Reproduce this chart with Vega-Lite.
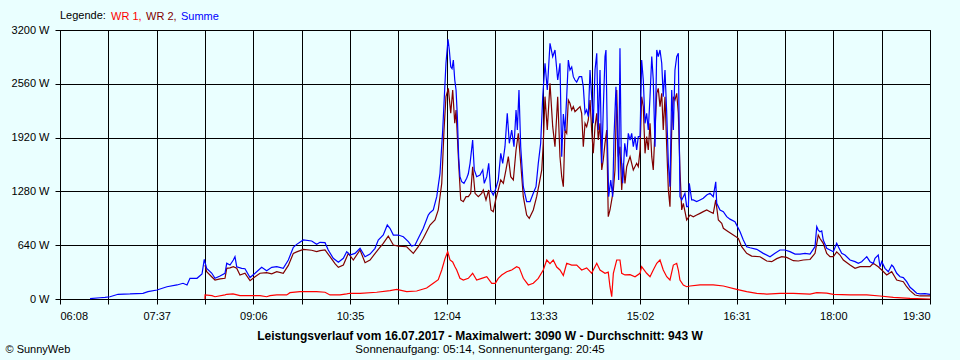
{
  "$schema": "https://vega.github.io/schema/vega-lite/v6.json",
  "width": 870,
  "height": 269,
  "autosize": "none",
  "padding": {"left": 60, "top": 30, "right": 30, "bottom": 61},
  "background": "#EAFFFF",
  "config": {
    "font": "Liberation Sans",
    "view": {"stroke": "black", "strokeWidth": 1},
    "axis": {
      "labelFont": "Liberation Sans",
      "labelFontSize": 11,
      "labelColor": "black",
      "tickColor": "black",
      "tickSize": 5,
      "domainColor": "black",
      "gridColor": "black",
      "gridOpacity": 1,
      "gridWidth": 1,
      "labelOverlap": false
    }
  },
  "title": {
    "text": "Leistungsverlauf vom 16.07.2017 - Maximalwert: 3090 W - Durchschnitt: 943 W",
    "subtitle": "Sonnenaufgang: 05:14, Sonnenuntergang: 20:45",
    "orient": "bottom",
    "anchor": "middle",
    "frame": "group",
    "offset": -23,
    "dx": -15,
    "font": "Liberation Sans",
    "fontSize": 12,
    "fontWeight": "bold",
    "color": "black",
    "subtitleFont": "Liberation Sans",
    "subtitleFontSize": 11.5,
    "subtitleColor": "black",
    "subtitlePadding": 1
  },
  "layer": [
    {
      "mark": {"type": "rule", "color": "#808080", "strokeWidth": 1},
      "encoding": {"y": {"datum": 943, "type": "quantitative", "scale": {"domain": [0, 3200], "nice": false}}}
    },
    {
      "data": {"values": [
        {"t":501.6,"s":"WR 1","w":0},{"t":501.7,"s":"WR 1","w":48},{"t":508.1,"s":"WR 1","w":40},{"t":510.9,"s":"WR 1","w":27},{"t":520.1,"s":"WR 1","w":50},{"t":521.7,"s":"WR 1","w":56},{"t":527.5,"s":"WR 1","w":60},{"t":533.9,"s":"WR 1","w":40},{"t":543.2,"s":"WR 1","w":39},{"t":552.4,"s":"WR 1","w":39},{"t":558.5,"s":"WR 1","w":27},{"t":561.6,"s":"WR 1","w":40},{"t":567.8,"s":"WR 1","w":48},{"t":577.0,"s":"WR 1","w":48},{"t":580.0,"s":"WR 1","w":75},{"t":589.2,"s":"WR 1","w":87},{"t":604.6,"s":"WR 1","w":87},{"t":612.3,"s":"WR 1","w":80},{"t":616.9,"s":"WR 1","w":48},{"t":626.1,"s":"WR 1","w":48},{"t":632.3,"s":"WR 1","w":60},{"t":635.3,"s":"WR 1","w":68},{"t":644.6,"s":"WR 1","w":68},{"t":659.9,"s":"WR 1","w":80},{"t":672.2,"s":"WR 1","w":100},{"t":678.4,"s":"WR 1","w":115},{"t":687.6,"s":"WR 1","w":87},{"t":696.8,"s":"WR 1","w":95},{"t":706.0,"s":"WR 1","w":130},{"t":712.1,"s":"WR 1","w":187},{"t":716.7,"s":"WR 1","w":230},{"t":719.9,"s":"WR 1","w":345},{"t":722.9,"s":"WR 1","w":480},{"t":725.4,"s":"WR 1","w":563},{"t":727.5,"s":"WR 1","w":464},{"t":730.0,"s":"WR 1","w":440},{"t":732.1,"s":"WR 1","w":384},{"t":733.7,"s":"WR 1","w":345},{"t":736.7,"s":"WR 1","w":246},{"t":739.8,"s":"WR 1","w":226},{"t":744.4,"s":"WR 1","w":246},{"t":748.4,"s":"WR 1","w":306},{"t":752.1,"s":"WR 1","w":226},{"t":756.7,"s":"WR 1","w":246},{"t":761.4,"s":"WR 1","w":265},{"t":766.0,"s":"WR 1","w":187},{"t":769.3,"s":"WR 1","w":187},{"t":772.0,"s":"WR 1","w":246},{"t":775.2,"s":"WR 1","w":286},{"t":779.8,"s":"WR 1","w":325},{"t":784.4,"s":"WR 1","w":345},{"t":789.0,"s":"WR 1","w":384},{"t":791.4,"s":"WR 1","w":370},{"t":795.1,"s":"WR 1","w":246},{"t":799.7,"s":"WR 1","w":167},{"t":804.3,"s":"WR 1","w":187},{"t":808.9,"s":"WR 1","w":246},{"t":813.5,"s":"WR 1","w":345},{"t":816.7,"s":"WR 1","w":464},{"t":819.7,"s":"WR 1","w":420},{"t":822.7,"s":"WR 1","w":464},{"t":825.9,"s":"WR 1","w":380},{"t":828.9,"s":"WR 1","w":345},{"t":832.0,"s":"WR 1","w":280},{"t":835.1,"s":"WR 1","w":425},{"t":839.7,"s":"WR 1","w":404},{"t":844.3,"s":"WR 1","w":404},{"t":848.9,"s":"WR 1","w":345},{"t":853.5,"s":"WR 1","w":370},{"t":858.1,"s":"WR 1","w":306},{"t":859.6,"s":"WR 1","w":345},{"t":862.8,"s":"WR 1","w":425},{"t":865.8,"s":"WR 1","w":345},{"t":870.4,"s":"WR 1","w":306},{"t":873.4,"s":"WR 1","w":320},{"t":875.0,"s":"WR 1","w":146},{"t":876.6,"s":"WR 1","w":27},{"t":878.1,"s":"WR 1","w":306},{"t":881.2,"s":"WR 1","w":464},{"t":884.2,"s":"WR 1","w":464},{"t":885.8,"s":"WR 1","w":306},{"t":888.8,"s":"WR 1","w":286},{"t":893.5,"s":"WR 1","w":290},{"t":898.1,"s":"WR 1","w":265},{"t":902.7,"s":"WR 1","w":306},{"t":904.2,"s":"WR 1","w":384},{"t":908.8,"s":"WR 1","w":306},{"t":911.9,"s":"WR 1","w":265},{"t":914.9,"s":"WR 1","w":345},{"t":918.1,"s":"WR 1","w":425},{"t":921.1,"s":"WR 1","w":464},{"t":924.1,"s":"WR 1","w":345},{"t":927.3,"s":"WR 1","w":265},{"t":930.3,"s":"WR 1","w":226},{"t":933.4,"s":"WR 1","w":404},{"t":936.5,"s":"WR 1","w":425},{"t":938.0,"s":"WR 1","w":345},{"t":939.5,"s":"WR 1","w":226},{"t":942.6,"s":"WR 1","w":167},{"t":945.7,"s":"WR 1","w":146},{"t":948.8,"s":"WR 1","w":155},{"t":958.0,"s":"WR 1","w":167},{"t":970.2,"s":"WR 1","w":167},{"t":979.5,"s":"WR 1","w":155},{"t":991.8,"s":"WR 1","w":115},{"t":1001.0,"s":"WR 1","w":87},{"t":1010.3,"s":"WR 1","w":68},{"t":1019.5,"s":"WR 1","w":59},{"t":1031.7,"s":"WR 1","w":68},{"t":1044.0,"s":"WR 1","w":68},{"t":1059.4,"s":"WR 1","w":59},{"t":1065.6,"s":"WR 1","w":75},{"t":1074.8,"s":"WR 1","w":70},{"t":1080.9,"s":"WR 1","w":56},{"t":1096.3,"s":"WR 1","w":48},{"t":1111.7,"s":"WR 1","w":48},{"t":1123.9,"s":"WR 1","w":36},{"t":1136.2,"s":"WR 1","w":20},{"t":1151.6,"s":"WR 1","w":8},{"t":1170.0,"s":"WR 1","w":0},

        {"t":501.7,"s":"WR 2","w":404},{"t":503.2,"s":"WR 2","w":325},{"t":507.8,"s":"WR 2","w":265},{"t":510.9,"s":"WR 2","w":226},{"t":515.5,"s":"WR 2","w":240},{"t":520.1,"s":"WR 2","w":246},{"t":521.7,"s":"WR 2","w":365},{"t":524.7,"s":"WR 2","w":370},{"t":527.8,"s":"WR 2","w":384},{"t":530.9,"s":"WR 2","w":365},{"t":533.9,"s":"WR 2","w":286},{"t":538.5,"s":"WR 2","w":306},{"t":543.2,"s":"WR 2","w":218},{"t":547.8,"s":"WR 2","w":265},{"t":552.4,"s":"WR 2","w":306},{"t":558.5,"s":"WR 2","w":313},{"t":563.2,"s":"WR 2","w":300},{"t":567.8,"s":"WR 2","w":325},{"t":573.8,"s":"WR 2","w":306},{"t":578.5,"s":"WR 2","w":400},{"t":583.1,"s":"WR 2","w":543},{"t":586.2,"s":"WR 2","w":560},{"t":592.3,"s":"WR 2","w":591},{"t":600.0,"s":"WR 2","w":580},{"t":604.6,"s":"WR 2","w":563},{"t":607.7,"s":"WR 2","w":575},{"t":612.3,"s":"WR 2","w":583},{"t":616.9,"s":"WR 2","w":503},{"t":621.5,"s":"WR 2","w":420},{"t":624.6,"s":"WR 2","w":377},{"t":629.2,"s":"WR 2","w":404},{"t":633.8,"s":"WR 2","w":543},{"t":638.4,"s":"WR 2","w":464},{"t":644.6,"s":"WR 2","w":583},{"t":649.2,"s":"WR 2","w":432},{"t":653.8,"s":"WR 2","w":464},{"t":661.4,"s":"WR 2","w":591},{"t":666.0,"s":"WR 2","w":662},{"t":670.6,"s":"WR 2","w":749},{"t":675.3,"s":"WR 2","w":642},{"t":679.9,"s":"WR 2","w":630},{"t":687.6,"s":"WR 2","w":622},{"t":693.7,"s":"WR 2","w":543},{"t":698.3,"s":"WR 2","w":622},{"t":702.9,"s":"WR 2","w":722},{"t":709.1,"s":"WR 2","w":880},{"t":713.7,"s":"WR 2","w":940},{"t":716.7,"s":"WR 2","w":1059},{"t":719.9,"s":"WR 2","w":1376},{"t":722.0,"s":"WR 2","w":2010},{"t":723.8,"s":"WR 2","w":2407},{"t":726.0,"s":"WR 2","w":2506},{"t":728.2,"s":"WR 2","w":2209},{"t":730.0,"s":"WR 2","w":2486},{"t":731.9,"s":"WR 2","w":2090},{"t":733.1,"s":"WR 2","w":2248},{"t":734.3,"s":"WR 2","w":1931},{"t":735.5,"s":"WR 2","w":1614},{"t":737.4,"s":"WR 2","w":1178},{"t":739.8,"s":"WR 2","w":1158},{"t":742.3,"s":"WR 2","w":1217},{"t":744.4,"s":"WR 2","w":1217},{"t":746.6,"s":"WR 2","w":1257},{"t":748.4,"s":"WR 2","w":1574},{"t":750.6,"s":"WR 2","w":1257},{"t":753.6,"s":"WR 2","w":1217},{"t":756.7,"s":"WR 2","w":1257},{"t":758.2,"s":"WR 2","w":1297},{"t":760.7,"s":"WR 2","w":1178},{"t":763.2,"s":"WR 2","w":1297},{"t":765.3,"s":"WR 2","w":1059},{"t":767.4,"s":"WR 2","w":1039},{"t":769.6,"s":"WR 2","w":1178},{"t":772.0,"s":"WR 2","w":1297},{"t":774.3,"s":"WR 2","w":1416},{"t":776.7,"s":"WR 2","w":1376},{"t":779.1,"s":"WR 2","w":1535},{"t":781.3,"s":"WR 2","w":1693},{"t":783.5,"s":"WR 2","w":1455},{"t":785.9,"s":"WR 2","w":1416},{"t":788.4,"s":"WR 2","w":1772},{"t":790.5,"s":"WR 2","w":1971},{"t":792.7,"s":"WR 2","w":1614},{"t":795.1,"s":"WR 2","w":1217},{"t":798.2,"s":"WR 2","w":999},{"t":800.6,"s":"WR 2","w":960},{"t":804.3,"s":"WR 2","w":1059},{"t":807.4,"s":"WR 2","w":1217},{"t":809.8,"s":"WR 2","w":1376},{"t":812.1,"s":"WR 2","w":1535},{"t":813.5,"s":"WR 2","w":1850},{"t":815.1,"s":"WR 2","w":2407},{"t":817.2,"s":"WR 2","w":2010},{"t":819.7,"s":"WR 2","w":2566},{"t":822.2,"s":"WR 2","w":2050},{"t":824.3,"s":"WR 2","w":1812},{"t":826.8,"s":"WR 2","w":2407},{"t":828.9,"s":"WR 2","w":1693},{"t":830.5,"s":"WR 2","w":1455},{"t":832.0,"s":"WR 2","w":1336},{"t":833.5,"s":"WR 2","w":2010},{"t":835.1,"s":"WR 2","w":1971},{"t":836.6,"s":"WR 2","w":2367},{"t":838.1,"s":"WR 2","w":2328},{"t":839.7,"s":"WR 2","w":2248},{"t":841.2,"s":"WR 2","w":2288},{"t":842.7,"s":"WR 2","w":2228},{"t":844.3,"s":"WR 2","w":2248},{"t":847.4,"s":"WR 2","w":2288},{"t":848.9,"s":"WR 2","w":2209},{"t":850.4,"s":"WR 2","w":1812},{"t":852.0,"s":"WR 2","w":2090},{"t":853.5,"s":"WR 2","w":2050},{"t":855.0,"s":"WR 2","w":2130},{"t":856.6,"s":"WR 2","w":2367},{"t":858.1,"s":"WR 2","w":2010},{"t":859.6,"s":"WR 2","w":1733},{"t":861.2,"s":"WR 2","w":2050},{"t":862.8,"s":"WR 2","w":2209},{"t":864.2,"s":"WR 2","w":1891},{"t":865.8,"s":"WR 2","w":2090},{"t":867.4,"s":"WR 2","w":1535},{"t":868.8,"s":"WR 2","w":1653},{"t":870.4,"s":"WR 2","w":1852},{"t":872.0,"s":"WR 2","w":2010},{"t":873.4,"s":"WR 2","w":979},{"t":875.0,"s":"WR 2","w":1059},{"t":876.6,"s":"WR 2","w":1178},{"t":878.1,"s":"WR 2","w":1297},{"t":879.6,"s":"WR 2","w":1535},{"t":881.2,"s":"WR 2","w":2486},{"t":882.7,"s":"WR 2","w":1693},{"t":884.2,"s":"WR 2","w":1812},{"t":885.8,"s":"WR 2","w":1297},{"t":887.3,"s":"WR 2","w":1614},{"t":888.8,"s":"WR 2","w":1376},{"t":890.4,"s":"WR 2","w":1574},{"t":893.5,"s":"WR 2","w":1693},{"t":896.5,"s":"WR 2","w":1535},{"t":899.6,"s":"WR 2","w":1614},{"t":901.1,"s":"WR 2","w":1574},{"t":902.7,"s":"WR 2","w":1772},{"t":904.2,"s":"WR 2","w":2407},{"t":905.7,"s":"WR 2","w":2288},{"t":907.3,"s":"WR 2","w":1733},{"t":908.8,"s":"WR 2","w":1931},{"t":910.3,"s":"WR 2","w":1772},{"t":911.9,"s":"WR 2","w":2090},{"t":913.5,"s":"WR 2","w":1693},{"t":914.9,"s":"WR 2","w":1535},{"t":916.5,"s":"WR 2","w":2010},{"t":918.1,"s":"WR 2","w":2447},{"t":919.5,"s":"WR 2","w":2506},{"t":921.1,"s":"WR 2","w":2288},{"t":922.7,"s":"WR 2","w":2447},{"t":924.1,"s":"WR 2","w":2010},{"t":925.7,"s":"WR 2","w":2407},{"t":927.3,"s":"WR 2","w":1812},{"t":928.8,"s":"WR 2","w":1297},{"t":930.3,"s":"WR 2","w":1098},{"t":931.9,"s":"WR 2","w":2010},{"t":933.4,"s":"WR 2","w":2407},{"t":934.9,"s":"WR 2","w":2367},{"t":936.5,"s":"WR 2","w":2447},{"t":938.0,"s":"WR 2","w":2209},{"t":939.5,"s":"WR 2","w":1535},{"t":941.1,"s":"WR 2","w":1059},{"t":942.6,"s":"WR 2","w":1138},{"t":945.7,"s":"WR 2","w":940},{"t":948.8,"s":"WR 2","w":999},{"t":951.8,"s":"WR 2","w":979},{"t":954.9,"s":"WR 2","w":999},{"t":958.0,"s":"WR 2","w":1019},{"t":961.0,"s":"WR 2","w":1039},{"t":964.2,"s":"WR 2","w":1059},{"t":967.2,"s":"WR 2","w":1039},{"t":970.2,"s":"WR 2","w":1019},{"t":972.5,"s":"WR 2","w":1178},{"t":974.9,"s":"WR 2","w":940},{"t":978.0,"s":"WR 2","w":900},{"t":979.5,"s":"WR 2","w":841},{"t":984.1,"s":"WR 2","w":801},{"t":988.7,"s":"WR 2","w":761},{"t":993.3,"s":"WR 2","w":722},{"t":996.4,"s":"WR 2","w":622},{"t":1001.0,"s":"WR 2","w":543},{"t":1005.6,"s":"WR 2","w":511},{"t":1013.3,"s":"WR 2","w":503},{"t":1019.5,"s":"WR 2","w":452},{"t":1024.1,"s":"WR 2","w":444},{"t":1028.7,"s":"WR 2","w":480},{"t":1033.3,"s":"WR 2","w":503},{"t":1037.9,"s":"WR 2","w":495},{"t":1044.0,"s":"WR 2","w":456},{"t":1048.6,"s":"WR 2","w":452},{"t":1053.2,"s":"WR 2","w":464},{"t":1059.4,"s":"WR 2","w":470},{"t":1064.0,"s":"WR 2","w":543},{"t":1067.0,"s":"WR 2","w":761},{"t":1068.6,"s":"WR 2","w":720},{"t":1071.6,"s":"WR 2","w":662},{"t":1074.8,"s":"WR 2","w":543},{"t":1077.8,"s":"WR 2","w":503},{"t":1080.9,"s":"WR 2","w":503},{"t":1084.0,"s":"WR 2","w":560},{"t":1087.0,"s":"WR 2","w":523},{"t":1090.1,"s":"WR 2","w":464},{"t":1096.3,"s":"WR 2","w":404},{"t":1100.9,"s":"WR 2","w":365},{"t":1105.5,"s":"WR 2","w":384},{"t":1110.1,"s":"WR 2","w":384},{"t":1114.7,"s":"WR 2","w":384},{"t":1117.7,"s":"WR 2","w":425},{"t":1122.3,"s":"WR 2","w":384},{"t":1125.5,"s":"WR 2","w":345},{"t":1130.1,"s":"WR 2","w":286},{"t":1134.7,"s":"WR 2","w":325},{"t":1139.3,"s":"WR 2","w":226},{"t":1145.4,"s":"WR 2","w":206},{"t":1148.5,"s":"WR 2","w":146},{"t":1151.6,"s":"WR 2","w":100},{"t":1156.2,"s":"WR 2","w":48},{"t":1160.8,"s":"WR 2","w":36},{"t":1170.0,"s":"WR 2","w":36},

        {"t":395.7,"s":"Summe","w":5},{"t":404.9,"s":"Summe","w":15},{"t":409.5,"s":"Summe","w":20},{"t":414.1,"s":"Summe","w":27},{"t":421.5,"s":"Summe","w":56},{"t":432.5,"s":"Summe","w":60},{"t":444.5,"s":"Summe","w":68},{"t":449.1,"s":"Summe","w":87},{"t":457.4,"s":"Summe","w":107},{"t":466.6,"s":"Summe","w":146},{"t":475.9,"s":"Summe","w":167},{"t":481.4,"s":"Summe","w":187},{"t":485.1,"s":"Summe","w":167},{"t":487.8,"s":"Summe","w":246},{"t":494.3,"s":"Summe","w":246},{"t":498.9,"s":"Summe","w":297},{"t":501.0,"s":"Summe","w":472},{"t":503.2,"s":"Summe","w":365},{"t":507.8,"s":"Summe","w":309},{"t":510.9,"s":"Summe","w":246},{"t":515.5,"s":"Summe","w":274},{"t":520.1,"s":"Summe","w":306},{"t":521.7,"s":"Summe","w":425},{"t":524.7,"s":"Summe","w":404},{"t":527.8,"s":"Summe","w":464},{"t":529.3,"s":"Summe","w":503},{"t":530.9,"s":"Summe","w":384},{"t":535.5,"s":"Summe","w":365},{"t":538.5,"s":"Summe","w":360},{"t":543.2,"s":"Summe","w":255},{"t":547.8,"s":"Summe","w":306},{"t":553.9,"s":"Summe","w":377},{"t":558.5,"s":"Summe","w":337},{"t":563.2,"s":"Summe","w":377},{"t":567.8,"s":"Summe","w":384},{"t":573.8,"s":"Summe","w":365},{"t":578.5,"s":"Summe","w":464},{"t":583.1,"s":"Summe","w":615},{"t":586.2,"s":"Summe","w":650},{"t":592.3,"s":"Summe","w":702},{"t":600.0,"s":"Summe","w":690},{"t":604.6,"s":"Summe","w":650},{"t":607.7,"s":"Summe","w":674},{"t":612.3,"s":"Summe","w":670},{"t":615.3,"s":"Summe","w":583},{"t":619.9,"s":"Summe","w":484},{"t":624.6,"s":"Summe","w":437},{"t":629.2,"s":"Summe","w":484},{"t":632.3,"s":"Summe","w":563},{"t":635.3,"s":"Summe","w":523},{"t":639.9,"s":"Summe","w":543},{"t":644.6,"s":"Summe","w":603},{"t":649.2,"s":"Summe","w":503},{"t":653.8,"s":"Summe","w":535},{"t":658.4,"s":"Summe","w":603},{"t":661.4,"s":"Summe","w":702},{"t":666.0,"s":"Summe","w":761},{"t":669.7,"s":"Summe","w":880},{"t":672.2,"s":"Summe","w":841},{"t":675.3,"s":"Summe","w":761},{"t":679.9,"s":"Summe","w":761},{"t":684.5,"s":"Summe","w":741},{"t":689.1,"s":"Summe","w":682},{"t":692.2,"s":"Summe","w":630},{"t":695.3,"s":"Summe","w":642},{"t":698.3,"s":"Summe","w":722},{"t":702.9,"s":"Summe","w":841},{"t":707.5,"s":"Summe","w":999},{"t":709.1,"s":"Summe","w":1027},{"t":712.1,"s":"Summe","w":1059},{"t":715.3,"s":"Summe","w":1217},{"t":718.3,"s":"Summe","w":1495},{"t":720.8,"s":"Summe","w":2010},{"t":722.0,"s":"Summe","w":2328},{"t":723.8,"s":"Summe","w":2804},{"t":725.7,"s":"Summe","w":3090},{"t":726.9,"s":"Summe","w":2962},{"t":728.2,"s":"Summe","w":2763},{"t":729.4,"s":"Summe","w":2740},{"t":730.6,"s":"Summe","w":2843},{"t":731.9,"s":"Summe","w":2605},{"t":733.1,"s":"Summe","w":2486},{"t":734.3,"s":"Summe","w":2169},{"t":735.5,"s":"Summe","w":1693},{"t":736.7,"s":"Summe","w":1455},{"t":738.3,"s":"Summe","w":1395},{"t":740.4,"s":"Summe","w":1376},{"t":742.9,"s":"Summe","w":1436},{"t":744.4,"s":"Summe","w":1490},{"t":746.0,"s":"Summe","w":1614},{"t":748.4,"s":"Summe","w":1891},{"t":749.9,"s":"Summe","w":1535},{"t":752.1,"s":"Summe","w":1455},{"t":755.2,"s":"Summe","w":1475},{"t":757.7,"s":"Summe","w":1535},{"t":759.1,"s":"Summe","w":1376},{"t":761.4,"s":"Summe","w":1455},{"t":763.2,"s":"Summe","w":1614},{"t":765.0,"s":"Summe","w":1297},{"t":767.4,"s":"Summe","w":1237},{"t":769.3,"s":"Summe","w":1297},{"t":772.0,"s":"Summe","w":1416},{"t":774.3,"s":"Summe","w":1733},{"t":776.1,"s":"Summe","w":1614},{"t":778.2,"s":"Summe","w":1812},{"t":780.3,"s":"Summe","w":2209},{"t":782.2,"s":"Summe","w":1852},{"t":784.4,"s":"Summe","w":2010},{"t":786.5,"s":"Summe","w":1812},{"t":788.4,"s":"Summe","w":2248},{"t":789.6,"s":"Summe","w":2010},{"t":791.1,"s":"Summe","w":2486},{"t":792.7,"s":"Summe","w":1812},{"t":795.1,"s":"Summe","w":1336},{"t":798.2,"s":"Summe","w":1158},{"t":801.3,"s":"Summe","w":1158},{"t":804.3,"s":"Summe","w":1257},{"t":806.8,"s":"Summe","w":1336},{"t":808.9,"s":"Summe","w":1614},{"t":811.1,"s":"Summe","w":1852},{"t":813.0,"s":"Summe","w":2407},{"t":815.1,"s":"Summe","w":2804},{"t":817.2,"s":"Summe","w":2486},{"t":819.7,"s":"Summe","w":3042},{"t":822.2,"s":"Summe","w":2883},{"t":824.3,"s":"Summe","w":2962},{"t":826.8,"s":"Summe","w":2605},{"t":828.9,"s":"Summe","w":2804},{"t":830.5,"s":"Summe","w":1693},{"t":832.0,"s":"Summe","w":2200},{"t":833.5,"s":"Summe","w":2000},{"t":835.1,"s":"Summe","w":2407},{"t":836.6,"s":"Summe","w":2843},{"t":838.1,"s":"Summe","w":2724},{"t":839.7,"s":"Summe","w":2760},{"t":841.2,"s":"Summe","w":2645},{"t":842.7,"s":"Summe","w":2605},{"t":844.3,"s":"Summe","w":2580},{"t":846.7,"s":"Summe","w":2645},{"t":848.9,"s":"Summe","w":2645},{"t":850.4,"s":"Summe","w":2526},{"t":852.0,"s":"Summe","w":2209},{"t":853.5,"s":"Summe","w":2250},{"t":855.0,"s":"Summe","w":2169},{"t":856.6,"s":"Summe","w":2724},{"t":858.1,"s":"Summe","w":2407},{"t":859.6,"s":"Summe","w":2090},{"t":861.2,"s":"Summe","w":2724},{"t":862.8,"s":"Summe","w":2923},{"t":864.2,"s":"Summe","w":2010},{"t":865.8,"s":"Summe","w":2724},{"t":867.4,"s":"Summe","w":1614},{"t":868.8,"s":"Summe","w":2250},{"t":870.4,"s":"Summe","w":2883},{"t":871.3,"s":"Summe","w":2962},{"t":872.5,"s":"Summe","w":1971},{"t":873.8,"s":"Summe","w":1217},{"t":875.7,"s":"Summe","w":1416},{"t":877.5,"s":"Summe","w":1217},{"t":878.7,"s":"Summe","w":1931},{"t":880.5,"s":"Summe","w":2526},{"t":881.7,"s":"Summe","w":2010},{"t":883.0,"s":"Summe","w":1416},{"t":884.2,"s":"Summe","w":2982},{"t":885.4,"s":"Summe","w":1693},{"t":886.7,"s":"Summe","w":1376},{"t":888.6,"s":"Summe","w":1852},{"t":890.4,"s":"Summe","w":1693},{"t":891.9,"s":"Summe","w":1971},{"t":893.5,"s":"Summe","w":1891},{"t":895.0,"s":"Summe","w":1971},{"t":896.5,"s":"Summe","w":1812},{"t":898.1,"s":"Summe","w":1931},{"t":899.6,"s":"Summe","w":1772},{"t":901.1,"s":"Summe","w":1931},{"t":902.7,"s":"Summe","w":1931},{"t":904.2,"s":"Summe","w":2843},{"t":905.7,"s":"Summe","w":2605},{"t":907.3,"s":"Summe","w":2090},{"t":908.8,"s":"Summe","w":2209},{"t":910.3,"s":"Summe","w":2010},{"t":911.9,"s":"Summe","w":2407},{"t":913.5,"s":"Summe","w":2883},{"t":914.9,"s":"Summe","w":2605},{"t":916.5,"s":"Summe","w":1812},{"t":918.1,"s":"Summe","w":2962},{"t":919.5,"s":"Summe","w":2883},{"t":921.1,"s":"Summe","w":2962},{"t":922.7,"s":"Summe","w":2804},{"t":924.1,"s":"Summe","w":2407},{"t":925.7,"s":"Summe","w":2724},{"t":927.3,"s":"Summe","w":2209},{"t":928.8,"s":"Summe","w":1614},{"t":930.3,"s":"Summe","w":1336},{"t":931.9,"s":"Summe","w":2486},{"t":933.4,"s":"Summe","w":2010},{"t":934.9,"s":"Summe","w":2724},{"t":936.5,"s":"Summe","w":2883},{"t":938.0,"s":"Summe","w":2923},{"t":939.5,"s":"Summe","w":1217},{"t":941.1,"s":"Summe","w":1178},{"t":942.6,"s":"Summe","w":1217},{"t":944.1,"s":"Summe","w":1257},{"t":945.7,"s":"Summe","w":1098},{"t":947.2,"s":"Summe","w":1098},{"t":948.1,"s":"Summe","w":1376},{"t":950.3,"s":"Summe","w":1178},{"t":951.8,"s":"Summe","w":1178},{"t":954.9,"s":"Summe","w":1158},{"t":958.0,"s":"Summe","w":1178},{"t":961.0,"s":"Summe","w":1198},{"t":964.2,"s":"Summe","w":1237},{"t":967.2,"s":"Summe","w":1257},{"t":970.2,"s":"Summe","w":1217},{"t":972.5,"s":"Summe","w":1395},{"t":973.4,"s":"Summe","w":1138},{"t":976.4,"s":"Summe","w":1059},{"t":979.5,"s":"Summe","w":1039},{"t":982.6,"s":"Summe","w":979},{"t":985.6,"s":"Summe","w":950},{"t":990.2,"s":"Summe","w":920},{"t":994.9,"s":"Summe","w":801},{"t":997.9,"s":"Summe","w":702},{"t":1001.0,"s":"Summe","w":622},{"t":1004.1,"s":"Summe","w":610},{"t":1010.3,"s":"Summe","w":591},{"t":1016.3,"s":"Summe","w":543},{"t":1022.5,"s":"Summe","w":503},{"t":1027.1,"s":"Summe","w":543},{"t":1031.7,"s":"Summe","w":583},{"t":1036.3,"s":"Summe","w":583},{"t":1040.9,"s":"Summe","w":563},{"t":1045.6,"s":"Summe","w":535},{"t":1050.2,"s":"Summe","w":535},{"t":1054.8,"s":"Summe","w":543},{"t":1059.4,"s":"Summe","w":535},{"t":1064.0,"s":"Summe","w":622},{"t":1065.6,"s":"Summe","w":860},{"t":1067.0,"s":"Summe","w":820},{"t":1068.6,"s":"Summe","w":800},{"t":1070.2,"s":"Summe","w":810},{"t":1071.6,"s":"Summe","w":702},{"t":1074.8,"s":"Summe","w":603},{"t":1077.8,"s":"Summe","w":583},{"t":1080.9,"s":"Summe","w":563},{"t":1084.0,"s":"Summe","w":662},{"t":1085.5,"s":"Summe","w":622},{"t":1088.6,"s":"Summe","w":543},{"t":1091.6,"s":"Summe","w":523},{"t":1096.3,"s":"Summe","w":464},{"t":1100.9,"s":"Summe","w":444},{"t":1103.9,"s":"Summe","w":424},{"t":1107.0,"s":"Summe","w":444},{"t":1110.1,"s":"Summe","w":484},{"t":1111.7,"s":"Summe","w":503},{"t":1114.7,"s":"Summe","w":444},{"t":1117.7,"s":"Summe","w":424},{"t":1119.3,"s":"Summe","w":484},{"t":1122.3,"s":"Summe","w":523},{"t":1123.9,"s":"Summe","w":384},{"t":1125.5,"s":"Summe","w":444},{"t":1128.5,"s":"Summe","w":365},{"t":1131.6,"s":"Summe","w":325},{"t":1134.7,"s":"Summe","w":404},{"t":1136.2,"s":"Summe","w":384},{"t":1139.3,"s":"Summe","w":306},{"t":1142.4,"s":"Summe","w":265},{"t":1145.4,"s":"Summe","w":255},{"t":1148.5,"s":"Summe","w":206},{"t":1151.6,"s":"Summe","w":139},{"t":1154.6,"s":"Summe","w":107},{"t":1157.7,"s":"Summe","w":68},{"t":1160.8,"s":"Summe","w":60},{"t":1165.4,"s":"Summe","w":64},{"t":1170.0,"s":"Summe","w":56}
      ]},
      "mark": {"type": "line", "strokeWidth": 1.2},
      "encoding": {
        "x": {
          "field": "t",
          "type": "quantitative",
          "scale": {"domain": [368, 1170], "nice": false, "zero": false},
          "axis": {
            "title": null,
            "values": [368, 412.5556, 457.1111, 501.6667, 546.2222, 590.7778, 635.3333, 679.8889, 724.4444, 769, 813.5556, 858.1111, 902.6667, 947.2222, 991.7778, 1036.3333, 1080.8889, 1125.4444, 1170],
            "labelExpr": "(round((datum.value - 368) / 44.5556) % 2 == 0) ? utcFormat(datum.value * 60000, '%H:%M') : ''",
            "labelPadding": 6,
            "grid": true
          }
        },
        "y": {
          "field": "w",
          "type": "quantitative",
          "scale": {"domain": [0, 3200], "nice": false},
          "axis": {
            "values": [0, 640, 1280, 1920, 2560, 3200],
            "labelExpr": "datum.value + ' W'",
            "labelPadding": 6,
            "grid": true,
            "title": "© SunnyWeb",
            "titleAngle": 0,
            "titleX": -55,
            "titleY": 319,
            "titleAlign": "left",
            "titleBaseline": "middle",
            "titleFont": "Liberation Sans",
            "titleFontSize": 11,
            "titleFontWeight": "normal",
            "titleColor": "black"
          }
        },
        "color": {
          "field": "s",
          "type": "nominal",
          "scale": {"domain": ["WR 1", "WR 2", "Summe"], "range": ["#FF0000", "#800000", "#0000FF"]},
          "legend": {
            "orient": "none",
            "legendX": 0,
            "legendY": -19,
            "direction": "horizontal",
            "gridAlign": "none",
            "title": "Legende:",
            "titleOrient": "left",
            "titleFont": "Liberation Sans",
            "titleFontSize": 11,
            "titleFontWeight": "normal",
            "titleColor": "black",
            "titlePadding": 4,
            "labelFont": "Liberation Sans",
            "labelFontSize": 11,
            "labelExpr": "datum.label == 'Summe' ? datum.label : datum.label + ','",
            "labelColor": {"expr": "datum.label == 'WR 1' ? '#FF0000' : (datum.label == 'WR 2' ? '#800000' : '#0000FF')"},
            "symbolType": "circle",
            "symbolSize": 1,
            "symbolStrokeWidth": 0,
            "symbolOpacity": 0,
            "labelOffset": -10,
            "columnPadding": 3,
            "padding": 0
          }
        }
      }
    }
  ]
}
